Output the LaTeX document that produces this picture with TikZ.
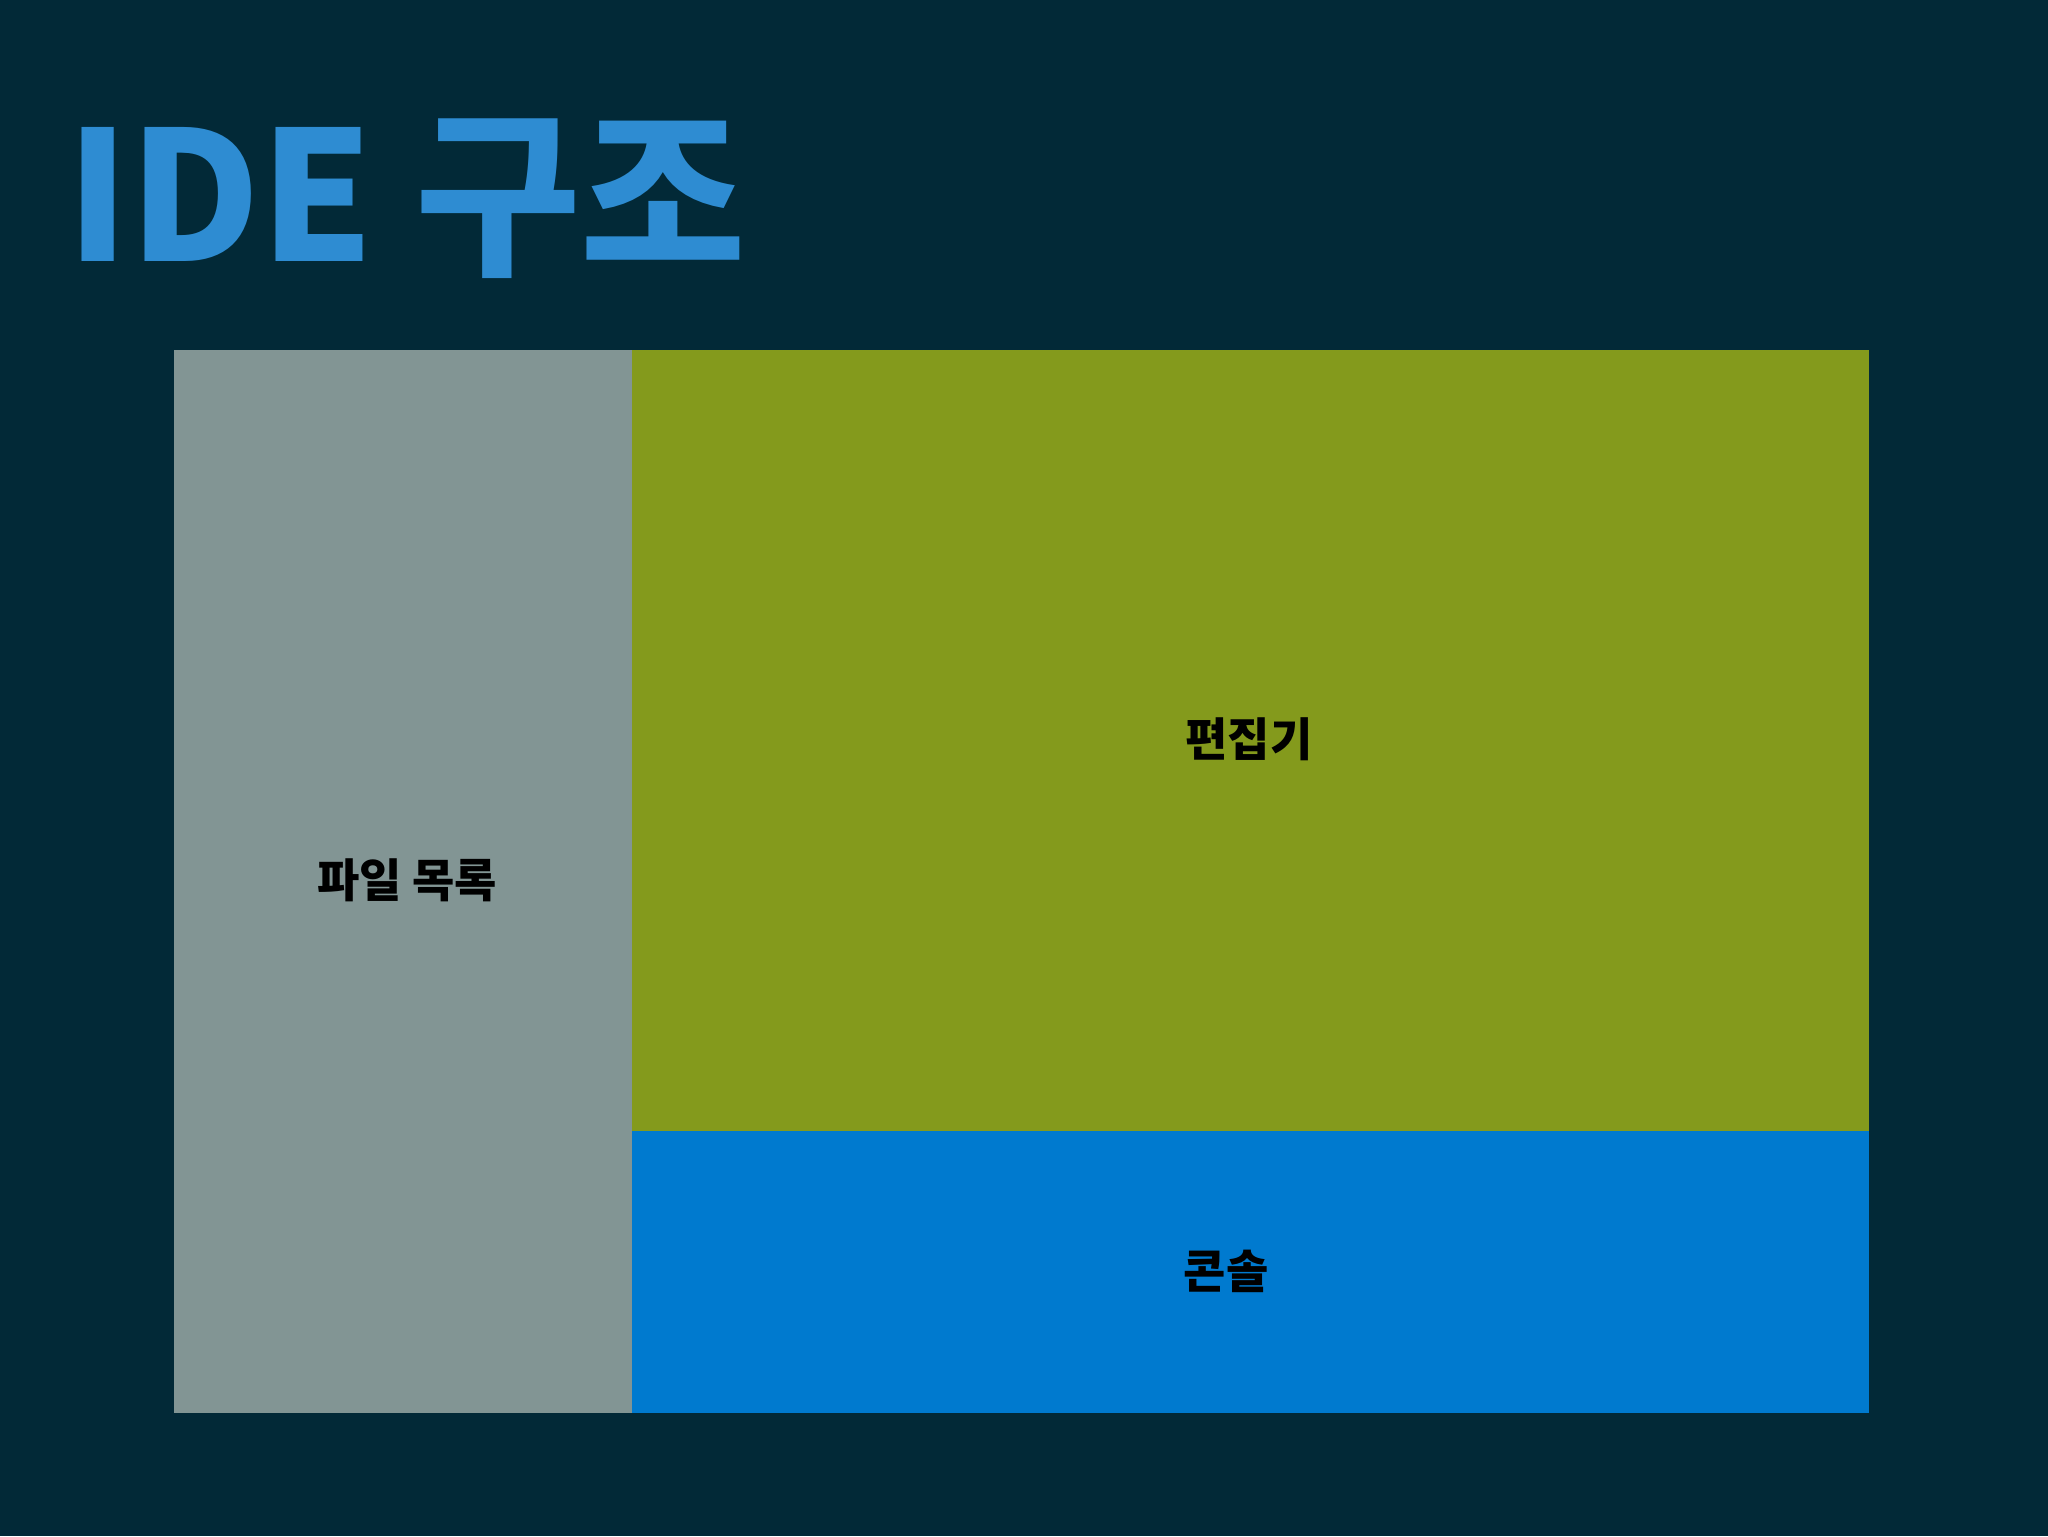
\documentclass[tikz,border=0pt]{standalone}
\usepackage{fontspec}
\newfontfamily\kr{Noto Sans CJK KR}
\definecolor{bgc}{RGB}{2,41,55}
\definecolor{titlec}{RGB}{46,140,210}
\definecolor{grayc}{RGB}{130,149,148}
\definecolor{greenc}{RGB}{132,154,28}
\definecolor{bluec}{RGB}{0,122,207}
\tikzset{
  lbl/.style={font=\kr\bfseries\fontsize{23}{27}\selectfont, text=black, inner sep=0pt}
}
\begin{document}
\begin{tikzpicture}[x=0.5pt,y=-0.5pt]
\fill[bgc] (0,0) rectangle (2048,1536);
\useasboundingbox (0,0) rectangle (2048,1536);
\node[anchor=base west, inner sep=0pt, text=titlec, font=\kr\bfseries\fontsize{90}{100}\selectfont] (title) at (66,261) {IDE 구조};
\fill[grayc] (174,350) rectangle (632,1413);
\fill[greenc] (632,350) rectangle (1869,1131);
\fill[bluec] (632,1131) rectangle (1869,1413);
\coordinate (filesc) at (407,880);
\coordinate (editc) at (1249,739);
\coordinate (consc) at (1226,1271);
\node[lbl] (files) at (filesc) {파일 목록};
\node[lbl] (editor) at (editc) {편집기};
\node[lbl] (console) at (consc) {콘솔};
\end{tikzpicture}
\end{document}
